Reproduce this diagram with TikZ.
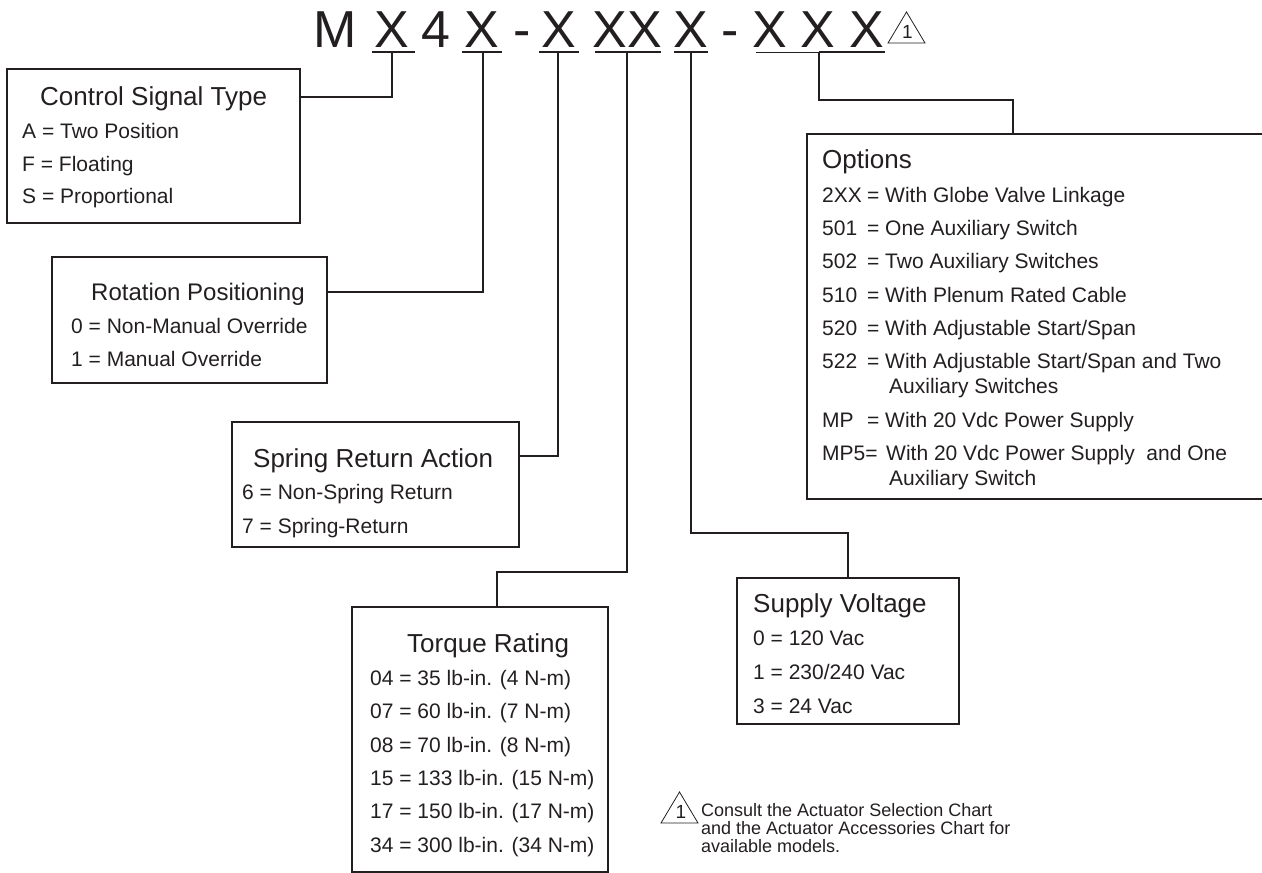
\documentclass[tikz,border=0pt]{standalone}
\usepackage{fontspec}
\setmainfont{Liberation Sans}
\definecolor{ink}{HTML}{231F20}
\begin{document}
\begin{tikzpicture}[x=1pt, y=-1pt, line join=miter,
  box/.style={draw=ink, line width=1.6pt, rectangle, inner sep=0pt, fill=none},
  conn/.style={draw=ink, line width=1.4pt},
  ul/.style={draw=ink, line width=1.6pt},
  tri/.style={draw=ink, line width=0.8pt},
  ttl/.style={font=\fontsize{52}{52}\selectfont, text=ink, inner sep=0pt, anchor=base},
  hd/.style={font=\fontsize{26}{30}\selectfont, text=ink, inner sep=0pt, anchor=base west},
  bd/.style={font=\fontsize{21}{25}\selectfont, text=ink, inner sep=0pt, anchor=base west},
  fn/.style={font=\fontsize{18}{18}\selectfont, text=ink, inner sep=0pt, anchor=base west},
  one/.style={font=\fontsize{19}{19}\selectfont, text=ink, inner sep=0pt, anchor=base}]
\useasboundingbox (0,0) rectangle (1262,873);
\clip (0,0) rectangle (1262,873);

% ---------- title ----------
\node[ttl] (tM)  at (335,47) {M};
\node[ttl] (tX1) at (392,47) {X};
\node[ttl] (t4)  at (436,47) {4};
\node[ttl] (tX2) at (482,47) {X};
\node[ttl] (td1) at (522,47) {-};
\node[ttl] (tX3) at (559,47) {X};
\node[ttl] (tX4) at (627,47) {XX};
\node[ttl] (tX5) at (691,47) {X};
\node[ttl] (td2) at (730,47) {-};
\node[ttl] (tX6) at (770,47) {X};
\node[ttl] (tX7) at (818,47) {X};
\node[ttl] (tX8) at (867,47) {X};
\draw[tri] (888,43) -- (906.5,12) -- (925,43) -- cycle;
\node[one] (tone) at (907.5,38) {1};

% underlines
\draw[ul] (372,52) -- (415,52);
\draw[ul] (462,52) -- (502,52);
\draw[ul] (539,52) -- (579,52);
\draw[ul] (595,52) -- (661,52);
\draw[ul] (674,52) -- (708,52);
\draw[draw=ink, line width=1pt] (756,52) -- (819,52);
\draw[draw=ink, line width=2pt] (819,52) -- (885,52);

\coordinate (u1) at (392,52);
\coordinate (u2) at (483,52);
\coordinate (u3) at (558,52);
\coordinate (u4) at (627,52);
\coordinate (u5) at (691,52);
\coordinate (u6) at (819,52);

% ---------- boxes ----------
\node[box, minimum width=293pt, minimum height=154pt] (ctl) at (153.5,146) {};
\node[box, minimum width=275pt, minimum height=126pt] (rot) at (189.5,320) {};
\node[box, minimum width=287pt, minimum height=125pt] (spr) at (375.5,484.5) {};
\node[box, minimum width=256pt, minimum height=265pt] (trq) at (480,739.5) {};
\node[box, minimum width=222pt, minimum height=146pt] (sup) at (848,651) {};
\node[box, minimum width=459pt, minimum height=365pt] (opt) at (1036.5,316.5) {};

\coordinate (c1) at (300,97);
\coordinate (c2) at (327,292);
\coordinate (c3) at (519,456);
\coordinate (c4) at (497,607);
\coordinate (c6) at (1013,134);

% ---------- connectors ----------
\draw[conn] (u1) |- (c1);
\draw[conn] (u2) |- (c2);
\draw[conn] (u3) |- (c3);
\draw[conn] (u4) -- ++(0,520) -| (c4);
\draw[conn] (u5) -- ++(0,481) -| (sup.north);
\draw[conn] (u6) -- ++(0,48) -| (c6);

% ---------- Control Signal Type ----------
\node[hd] (ctlh) at (40,105) {Control Signal Type};
\node[bd] (ctl1) at (22,138) {A = Two Position};
\node[bd] (ctl2) at (22,171.5) {F = Floating};
\node[bd] (ctl3) at (22,203) {S = Proportional};

% ---------- Rotation Positioning ----------
\node[hd, font=\fontsize{24}{28}\selectfont] (roth) at (91,300) {Rotation Positioning};
\node[bd] (rot1) at (71,333) {0 = Non-Manual Override};
\node[bd] (rot2) at (71,366) {1 = Manual Override};

% ---------- Spring Return Action ----------
\node[hd] (sprh) at (253,467) {Spring Return Action};
\node[bd] (spr1) at (242,499) {6 = Non-Spring Return};
\node[bd] (spr2) at (242,533) {7 = Spring-Return};

% ---------- Torque Rating ----------
\node[hd] (trqh) at (407,652) {Torque Rating};
\node[bd] (trq1) at (370,685) {04 = 35 lb-in. (4 N-m)};
\node[bd] (trq2) at (370,718) {07 = 60 lb-in. (7 N-m)};
\node[bd] (trq3) at (370,752) {08 = 70 lb-in. (8 N-m)};
\node[bd] (trq4) at (370,785) {15 = 133 lb-in. (15 N-m)};
\node[bd] (trq5) at (370,818) {17 = 150 lb-in. (17 N-m)};
\node[bd] (trq6) at (370,852) {34 = 300 lb-in. (34 N-m)};

% ---------- Supply Voltage ----------
\node[hd] (suph) at (753,612) {Supply Voltage};
\node[bd] (sup1) at (753,645) {0 = 120 Vac};
\node[bd] (sup2) at (753,679) {1 = 230/240 Vac};
\node[bd] (sup3) at (753,713) {3 = 24 Vac};

% ---------- Options ----------
\node[hd] (opth) at (822,168) {Options};
\node[bd] (oc1) at (822,202) {2XX};  \node[bd] (oe1) at (867,202) {=}; \node[bd] (ot1) at (885,202) {With Globe Valve Linkage};
\node[bd] (oc2) at (822,235) {501};  \node[bd] (oe2) at (867,235) {=}; \node[bd] (ot2) at (885,235) {One Auxiliary Switch};
\node[bd] (oc3) at (822,268) {502};  \node[bd] (oe3) at (867,268) {=}; \node[bd] (ot3) at (885,268) {Two Auxiliary Switches};
\node[bd] (oc4) at (822,302) {510};  \node[bd] (oe4) at (867,302) {=}; \node[bd] (ot4) at (885,302) {With Plenum Rated Cable};
\node[bd] (oc5) at (822,335) {520};  \node[bd] (oe5) at (867,335) {=}; \node[bd] (ot5) at (885,335) {With Adjustable Start/Span};
\node[bd] (oc6) at (822,368) {522};  \node[bd] (oe6) at (867,368) {=}; \node[bd] (ot6) at (885,368) {With Adjustable Start/Span and Two};
\node[bd] (ot6b) at (889,393) {Auxiliary Switches};
\node[bd] (oc7) at (822,427) {MP};   \node[bd] (oe7) at (867,427) {=}; \node[bd] (ot7) at (885,427) {With 20 Vdc Power Supply};
\node[bd] (oc8) at (822,460) {MP5=}; \node[bd] (ot8) at (886,460) {With 20 Vdc Power Supply\ \ and One};
\node[bd] (ot8b) at (889,485) {Auxiliary Switch};

% ---------- footnote ----------
\draw[tri] (661,823) -- (679.5,792) -- (698,823) -- cycle;
\node[one] (fone) at (681,818) {1};
\node[fn] (fn1) at (701,816) {Consult the Actuator Selection Chart};
\node[fn] (fn2) at (701,834) {and the Actuator Accessories Chart for};
\node[fn] (fn3) at (701,852) {available models.};
\end{tikzpicture}
\end{document}
